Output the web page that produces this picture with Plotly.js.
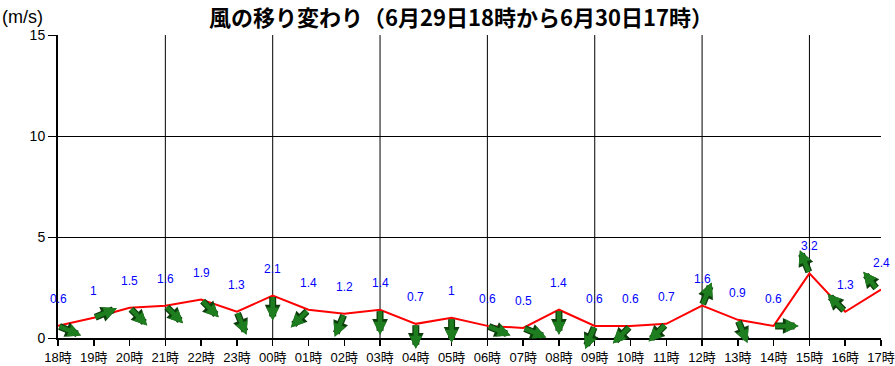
<!DOCTYPE html>
<html>
<head>
<meta charset="utf-8">
<script src="https://cdn.plot.ly/plotly-3.0.1.min.js"></script>
<style>html,body{margin:0;padding:0;background:#fff;}#chart{width:895px;height:366px;}</style>
</head>
<body>
<div id="chart"></div>
<script>
// ---- data ----
const hours = ["18時","19時","20時","21時","22時","23時","00時","01時","02時","03時","04時","05時",
               "06時","07時","08時","09時","10時","11時","12時","13時","14時","15時","16時","17時"];
const speeds = [0.6,1,1.5,1.6,1.9,1.3,2.1,1.4,1.2,1.4,0.7,1,0.6,0.5,1.4,0.6,0.6,0.7,1.6,0.9,0.6,3.2,1.3,2.4];
// direction the arrow points to (degrees clockwise from north)
const arrowHeading = [112.5,67.5,135,135,135,157.5,180,225,202.5,180,180,180,
                      112.5,112.5,180,202.5,225,225,22.5,157.5,90,337.5,315,315];
const yTicks = [0,5,10,15];
const gridEvery = 3;
const titleText = "風の移り変わり（6月29日18時から6月30日17時）";
const unitText = "(m/s)";

const idx = hours.map((_, i) => i);
const font = "Liberation Sans, Arial, Noto Sans CJK JP, sans-serif";
const arrowLen = 25;

const annotations = [];
// arrows: outline then fill
[["#0d3f0d", 7, 0.45], ["#1e7d1e", 4.5, 0.58]].forEach(([col, w, sz]) => {
  idx.forEach(i => {
    const r = arrowHeading[i] * Math.PI / 180;
    const dx = arrowLen * Math.sin(r);
    const dyDown = -arrowLen * Math.cos(r);
    annotations.push({
      x: i, y: speeds[i], xref: "x", yref: "y",
      text: "", showarrow: true, arrowhead: 2, arrowsize: sz, arrowwidth: w, arrowcolor: col,
      standoff: 0, startstandoff: 0,
      xshift: dx, yshift: -dyDown, ax: -dx, ay: -dyDown
    });
  });
});
// value labels
idx.forEach(i => {
  annotations.push({
    x: i, y: speeds[i], xref: "x", yref: "y", text: String(speeds[i]),
    showarrow: false, yshift: 27, font: {family: font, size: 12, color: "#0000ff"}
  });
});
// unit label
annotations.push({
  xref: "paper", yref: "paper", x: -58/823, y: 1 + 18/303, xanchor: "left", yanchor: "middle",
  text: unitText, showarrow: false, font: {family: font, size: 18, color: "#000"}
});

const shapes = [];
for (let g = gridEvery; g < hours.length; g += gridEvery) {
  shapes.push({type: "line", xref: "x", yref: "paper", x0: g, x1: g, y0: 0, y1: 1,
               line: {color: "#000", width: 1}, layer: "below"});
}

const trace = {
  x: idx, y: speeds, type: "scatter", mode: "lines",
  line: {color: "#ff0000", width: 2}, hoverinfo: "skip", cliponaxis: false
};

const layout = {
  width: 895, height: 366,
  margin: {l: 58, r: 14, t: 35, b: 28},
  paper_bgcolor: "#fff", plot_bgcolor: "#fff",
  showlegend: false,
  title: {text: titleText, x: 461/895, xref: "container", xanchor: "center",
          y: 1 - 18/366, yref: "container", yanchor: "middle",
          font: {family: "Noto Sans CJK JP, sans-serif", size: 22, color: "#000", weight: "bold"}},
  xaxis: {
    range: [0, hours.length - 1], tickmode: "array", tickvals: idx, ticktext: hours,
    showgrid: false, zeroline: false, showline: true, linecolor: "#000", linewidth: 2,
    ticks: "outside", ticklen: 6, tickwidth: 1.5, tickcolor: "#000",
    tickfont: {family: font, size: 13, color: "#000"}, fixedrange: true
  },
  yaxis: {
    range: [0, 15], tickmode: "array", tickvals: yTicks,
    showgrid: true, gridcolor: "#000", gridwidth: 1, zeroline: false,
    showline: true, linecolor: "#000", linewidth: 2,
    ticks: "outside", ticklen: 8, tickwidth: 1, tickcolor: "#000",
    tickfont: {family: font, size: 14, color: "#000"}, fixedrange: true
  },
  shapes: shapes,
  annotations: annotations
};

Plotly.newPlot("chart", [trace], layout, {displayModeBar: false, staticPlot: true});
</script>
</body>
</html>
